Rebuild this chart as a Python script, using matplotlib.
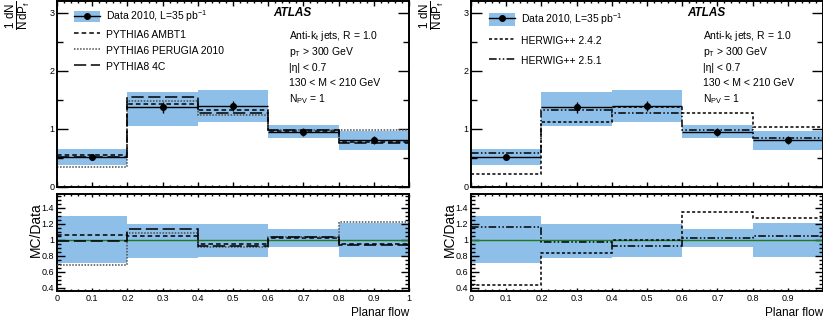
import numpy as np
import matplotlib.pyplot as plt
from matplotlib.lines import Line2D
from matplotlib.patches import Patch
from matplotlib.ticker import MultipleLocator, FuncFormatter

plt.rcParams['font.family'] = ['Liberation Sans', 'DejaVu Sans']
plt.rcParams['mathtext.fontset'] = 'custom'
plt.rcParams['mathtext.rm'] = 'Liberation Sans'
plt.rcParams['mathtext.it'] = 'Liberation Sans'
plt.rcParams['mathtext.bf'] = 'Liberation Sans:bold'

# binning of planar flow
edges = [0.0, 0.2, 0.4, 0.6, 0.8, 1.0]

# data 2010 with stat errors and syst band
data = [0.51, 1.37, 1.39, 0.95, 0.81]
data_err = [0.045, 0.10, 0.09, 0.07, 0.075]
syst_lo = [0.37, 1.05, 1.11, 0.85, 0.64]
syst_hi = [0.655, 1.64, 1.67, 1.07, 0.97]
ratio_lo = [0.715, 0.77, 0.79, 0.907, 0.79]
ratio_hi = [1.295, 1.20, 1.20, 1.13, 1.21]

# left: pythia tunes
ambt1 = [0.545, 1.425, 1.32, 0.97, 0.78]
perugia = [0.35, 1.48, 1.24, 0.98, 0.985]
p8_4c = [0.52, 1.545, 1.265, 0.975, 0.755]
ambt1_ratio = [1.055, 1.045, 0.95, 1.025, 0.945]
perugia_ratio = [0.68, 1.085, 0.905, 1.03, 1.215]
p8_4c_ratio = [0.985, 1.135, 0.92, 1.03, 0.935]

# right: herwig++ versions
hw242 = [0.225, 1.125, 1.38, 1.265, 1.025]
hw251 = [0.585, 1.33, 1.28, 0.975, 0.85]
hw242_ratio = [0.44, 0.83, 0.99, 1.345, 1.265]
hw251_ratio = [1.16, 0.975, 0.925, 1.025, 1.045]

blue = '#8dbfe8'
styles = {
    'PYTHIA6 AMBT1': dict(ls=(0, (3, 2)), color='k'),
    'PYTHIA6 PERUGIA 2010': dict(ls=(0, (1, 1)), color='0.3'),
    'PYTHIA8 4C': dict(ls=(0, (8, 3)), color='k'),
    'HERWIG++ 2.4.2': dict(ls=(0, (2, 1.5)), color='k'),
    'HERWIG++ 2.5.1': dict(ls=(0, (5, 1.5, 1, 1.5, 1, 1.5)), color='k'),
}

panels = [
    ([('PYTHIA6 AMBT1', ambt1, ambt1_ratio),
      ('PYTHIA6 PERUGIA 2010', perugia, perugia_ratio),
      ('PYTHIA8 4C', p8_4c, p8_4c_ratio)],
     57, (0.048, 0.962), 1.15, 0.5, True),
    ([('HERWIG++ 2.4.2', hw242, hw242_ratio),
      ('HERWIG++ 2.5.1', hw251, hw251_ratio)],
     471, (0.051, 0.946), 1.45, 0.72, False),
]

W, H = 823, 326
fig = plt.figure(figsize=(W / 100, H / 100), dpi=100)
centers = 0.5 * (np.array(edges[:-1]) + np.array(edges[1:]))

for mcs, x0, leg_xy, hh, lsp, show_last in panels:
    ax = fig.add_axes([x0 / W, 1 - 187 / H, 352 / W, 186 / H])
    axr = fig.add_axes([x0 / W, 1 - 291 / H, 352 / W, 97 / H])

    # top panel
    ax.stairs(syst_hi, edges, baseline=syst_lo, fill=True, color=blue, lw=0, zorder=1)
    for name, vals, _ in mcs:
        ax.stairs(vals, edges, baseline=None, lw=1.1, zorder=2, **styles[name])
    ax.errorbar(centers, data, xerr=0.1, yerr=data_err, fmt='o', color='k',
                ms=4, lw=1, capsize=0, zorder=3)
    ax.set_xlim(0, 1)
    ax.set_ylim(0, 3.2)
    ax.yaxis.set_major_locator(MultipleLocator(1))
    ax.yaxis.set_minor_locator(MultipleLocator(0.5))
    ax.xaxis.set_major_locator(MultipleLocator(0.1))
    ax.xaxis.set_minor_locator(MultipleLocator(0.02))
    ax.set_xticklabels([])
    ax.tick_params(axis='y', which='major', length=8)
    ax.tick_params(axis='y', which='minor', length=4.3)
    ax.tick_params(axis='x', which='major', length=3.5)
    ax.tick_params(axis='x', which='minor', length=1.5)

    handles = [(Patch(fc=blue, ec='none'),
                Line2D([], [], color='k', marker='o', ms=4, lw=1))]
    labels = ['Data 2010, L=35 pb$^{-1}$']
    for name, _, _ in mcs:
        handles.append(Line2D([], [], lw=1.1, **styles[name]))
        labels.append(name)
    ax.legend(handles, labels, loc='upper left', bbox_to_anchor=leg_xy,
              borderaxespad=0, borderpad=0, frameon=False, fontsize=7.5,
              handlelength=2.5, handleheight=hh, handletextpad=0.6,
              labelspacing=lsp)

    ax.text(0.614, 0.919, 'ATLAS', transform=ax.transAxes, fontsize=8.5,
            fontweight='bold', fontstyle='italic', va='baseline')
    info = ['Anti-k$_\\mathrm{t}$ jets, R = 1.0', 'p$_\\mathrm{T}$ > 300 GeV',
            '|η| < 0.7', '130 < M < 210 GeV', 'N$_\\mathrm{PV}$ = 1']
    for txt, yy in zip(info, [0.796, 0.712, 0.626, 0.543, 0.457]):
        ax.text(0.659, yy, txt, transform=ax.transAxes, fontsize=7.5, va='baseline')

    # y title up in the top-left corner
    fig.text((x0 - 39) / W, 0.998, r'$\frac{1}{N}\frac{\mathrm{d}N}{\mathrm{d}P_{\mathrm{f}}}$',
             rotation=90, ha='center', va='top', fontsize=12)

    # ratio panel
    axr.stairs(ratio_hi, edges, baseline=ratio_lo, fill=True, color=blue, lw=0, zorder=1)
    axr.axhline(1, color='#1f7a1f', lw=1, zorder=2)
    for name, _, rat in mcs:
        axr.stairs(rat, edges, baseline=None, lw=1.1, zorder=3, **styles[name])
    axr.set_xlim(0, 1)
    axr.set_ylim(0.36, 1.57)
    axr.yaxis.set_major_locator(MultipleLocator(0.2))
    axr.yaxis.set_minor_locator(MultipleLocator(0.05))
    axr.xaxis.set_major_locator(MultipleLocator(0.1))
    axr.xaxis.set_minor_locator(MultipleLocator(0.02))
    if show_last:
        xfmt = FuncFormatter(lambda v, p: f'{v:g}')
    else:
        xfmt = FuncFormatter(lambda v, p: '' if v > 0.95 else f'{v:g}')
    axr.xaxis.set_major_formatter(xfmt)
    axr.yaxis.set_major_formatter(FuncFormatter(lambda v, p: f'{v:g}'))
    axr.tick_params(axis='y', which='major', length=6)
    axr.tick_params(axis='y', which='minor', length=3)
    axr.tick_params(axis='x', which='major', length=2.5)
    axr.tick_params(axis='x', which='minor', length=1.2)
    axr.set_ylabel('MC/Data', fontsize=10)
    axr.yaxis.set_label_coords(-0.04, 0.63)
    axr.set_xlabel('Planar flow', fontsize=8.5, loc='right')
    axr.xaxis.set_label_coords(1.0, -0.16)

    for a in (ax, axr):
        a.tick_params(which='both', direction='in', top=True, right=True,
                      labelsize=6.5, width=1, pad=2)
        for s in a.spines.values():
            s.set_linewidth(1.4)

fig.savefig('out.png', dpi=100)
